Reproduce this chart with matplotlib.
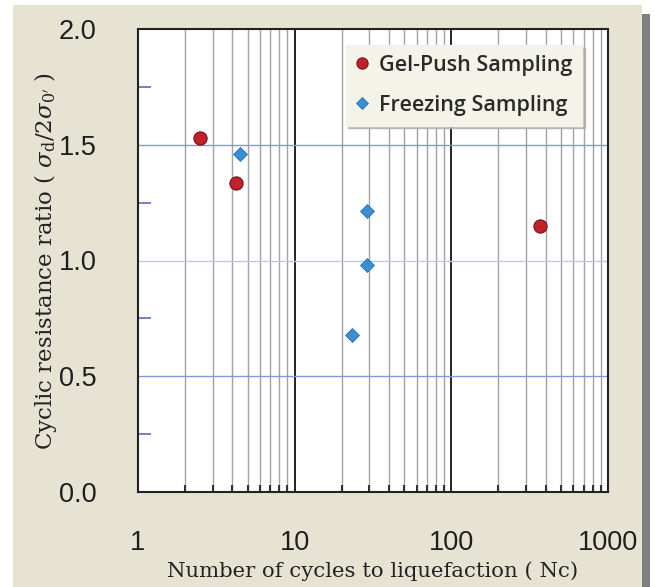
import matplotlib
matplotlib.use("Agg")
import matplotlib.pyplot as plt
from matplotlib.patches import Rectangle
from matplotlib.ticker import LogLocator, FixedLocator, NullFormatter, FixedFormatter

# Data
gel_nc = [2.5, 4.2, 370]
gel_crr = [1.53, 1.335, 1.15]
frz_nc = [4.45, 28.8, 28.8, 23.1]
frz_crr = [1.46, 1.215, 0.98, 0.68]
xticks = [1, 10, 100, 1000]
xtick_labels = ["1", "10", "100", "1000"]
yticks = [0.0, 0.5, 1.0, 1.5, 2.0]
ytick_labels = ["0.0", "0.5", "1.0", "1.5", "2.0"]
yminor = [0.25, 0.75, 1.25, 1.75]

plt.rcParams["mathtext.fontset"] = "dejavuserif"

W, H = 655, 587
fig = plt.figure(figsize=(W / 100, H / 100), dpi=100)
fig.patch.set_facecolor("white")

def px(x0, y0, x1, y1):
    return (x0 / W, 1 - y1 / H, (x1 - x0) / W, (y1 - y0) / H)

# shadow and beige panel
x, y, w, h = px(642, 14, 650, 587)
fig.patches.append(Rectangle((x, y), w, h, transform=fig.transFigure, facecolor="#7d7f80", edgecolor="none", zorder=-2))
x, y, w, h = px(13, 5, 642, 587)
fig.patches.append(Rectangle((x, y), w, h, transform=fig.transFigure, facecolor="#e7e3d3", edgecolor="none", zorder=-2))

ax = fig.add_axes(px(138, 29, 608, 492))
ax.set_zorder(2)
ax.set_facecolor("white")
ax.set_xscale("log")
ax.set_xlim(1, 1000)
ax.set_ylim(0, 2.0)

# grid lines
for d in [1, 10, 100]:
    for m in range(2, 10):
        ax.axvline(d * m, color="#a3a3a3", lw=1.0, zorder=1)
for v in [10, 100]:
    ax.axvline(v, color="#222222", lw=1.4, zorder=1)
for yv in [0.5, 1.5]:
    ax.axhline(yv, color="#8a98d0", lw=1.0, zorder=1)
ax.axhline(1.0, color="#c0c8e6", lw=1.0, zorder=1)

ax.xaxis.set_major_locator(FixedLocator(xticks))
ax.xaxis.set_major_formatter(FixedFormatter(xtick_labels))
ax.xaxis.set_minor_locator(LogLocator(base=10, subs=range(2, 10)))
ax.xaxis.set_minor_formatter(NullFormatter())
ax.yaxis.set_major_locator(FixedLocator(yticks))
ax.yaxis.set_major_formatter(FixedFormatter(ytick_labels))
ax.yaxis.set_minor_locator(FixedLocator(yminor))

ax.tick_params(axis="x", which="major", length=0, pad=27, labelsize=19.5)
ax.tick_params(axis="x", which="minor", direction="in", length=5, width=1.5, color="#333333")
ax.tick_params(axis="y", which="major", length=0, pad=30, labelsize=19.5)
ax.tick_params(axis="y", which="minor", direction="in", length=9, width=1.2, color="#5b6cb5")
for lab in ax.get_xticklabels() + ax.get_yticklabels():
    lab.set_fontfamily("Liberation Sans")
    lab.set_color("#1e1e1e")

for s in ax.spines.values():
    s.set_linewidth(1.5)
    s.set_color("#222222")
    s.set_zorder(5)

ax.plot(gel_nc, gel_crr, "o", ms=9.5, mfc="#c0222a", mec="#7a1015", mew=0.8,
        ls="none", label="Gel-Push Sampling", zorder=4)
ax.plot(frz_nc, frz_crr, "D", ms=7, mfc="#3a8fd2", mec="#2a70b0", mew=0.6,
        ls="none", label="Freezing Sampling", zorder=4)

leg = ax.legend(loc="upper right", bbox_to_anchor=(0.945, 0.965), borderaxespad=0,
                frameon=True, fancybox=False, shadow={"color": "#b0ada0", "alpha": 0.8},
                facecolor="#f4f3ea", edgecolor="#f4f3ea", framealpha=1,
                prop={"family": "Open Sans", "weight": "semibold", "size": 15.5},
                handlelength=0.6, handletextpad=0.5, labelspacing=0.88,
                borderpad=0.45, markerscale=0.85)
for t in leg.get_texts():
    t.set_color("#2a2a2a")
leg.set_zorder(6)

fig.text(373 / W, 1 - 571 / H, "Number of cycles to liquefaction ( Nc)",
         ha="center", va="center", fontsize=15.3, family="DejaVu Serif", color="#222222")
fig.text(46 / W, 1 - 261 / H, r"Cyclic resistance ratio ( $\sigma_{\mathrm{d}}/2\sigma_{0'}$ )",
         ha="center", va="center", rotation=90, fontsize=16.5, family="DejaVu Serif", color="#222222")

fig.savefig("out.png", dpi=100)
